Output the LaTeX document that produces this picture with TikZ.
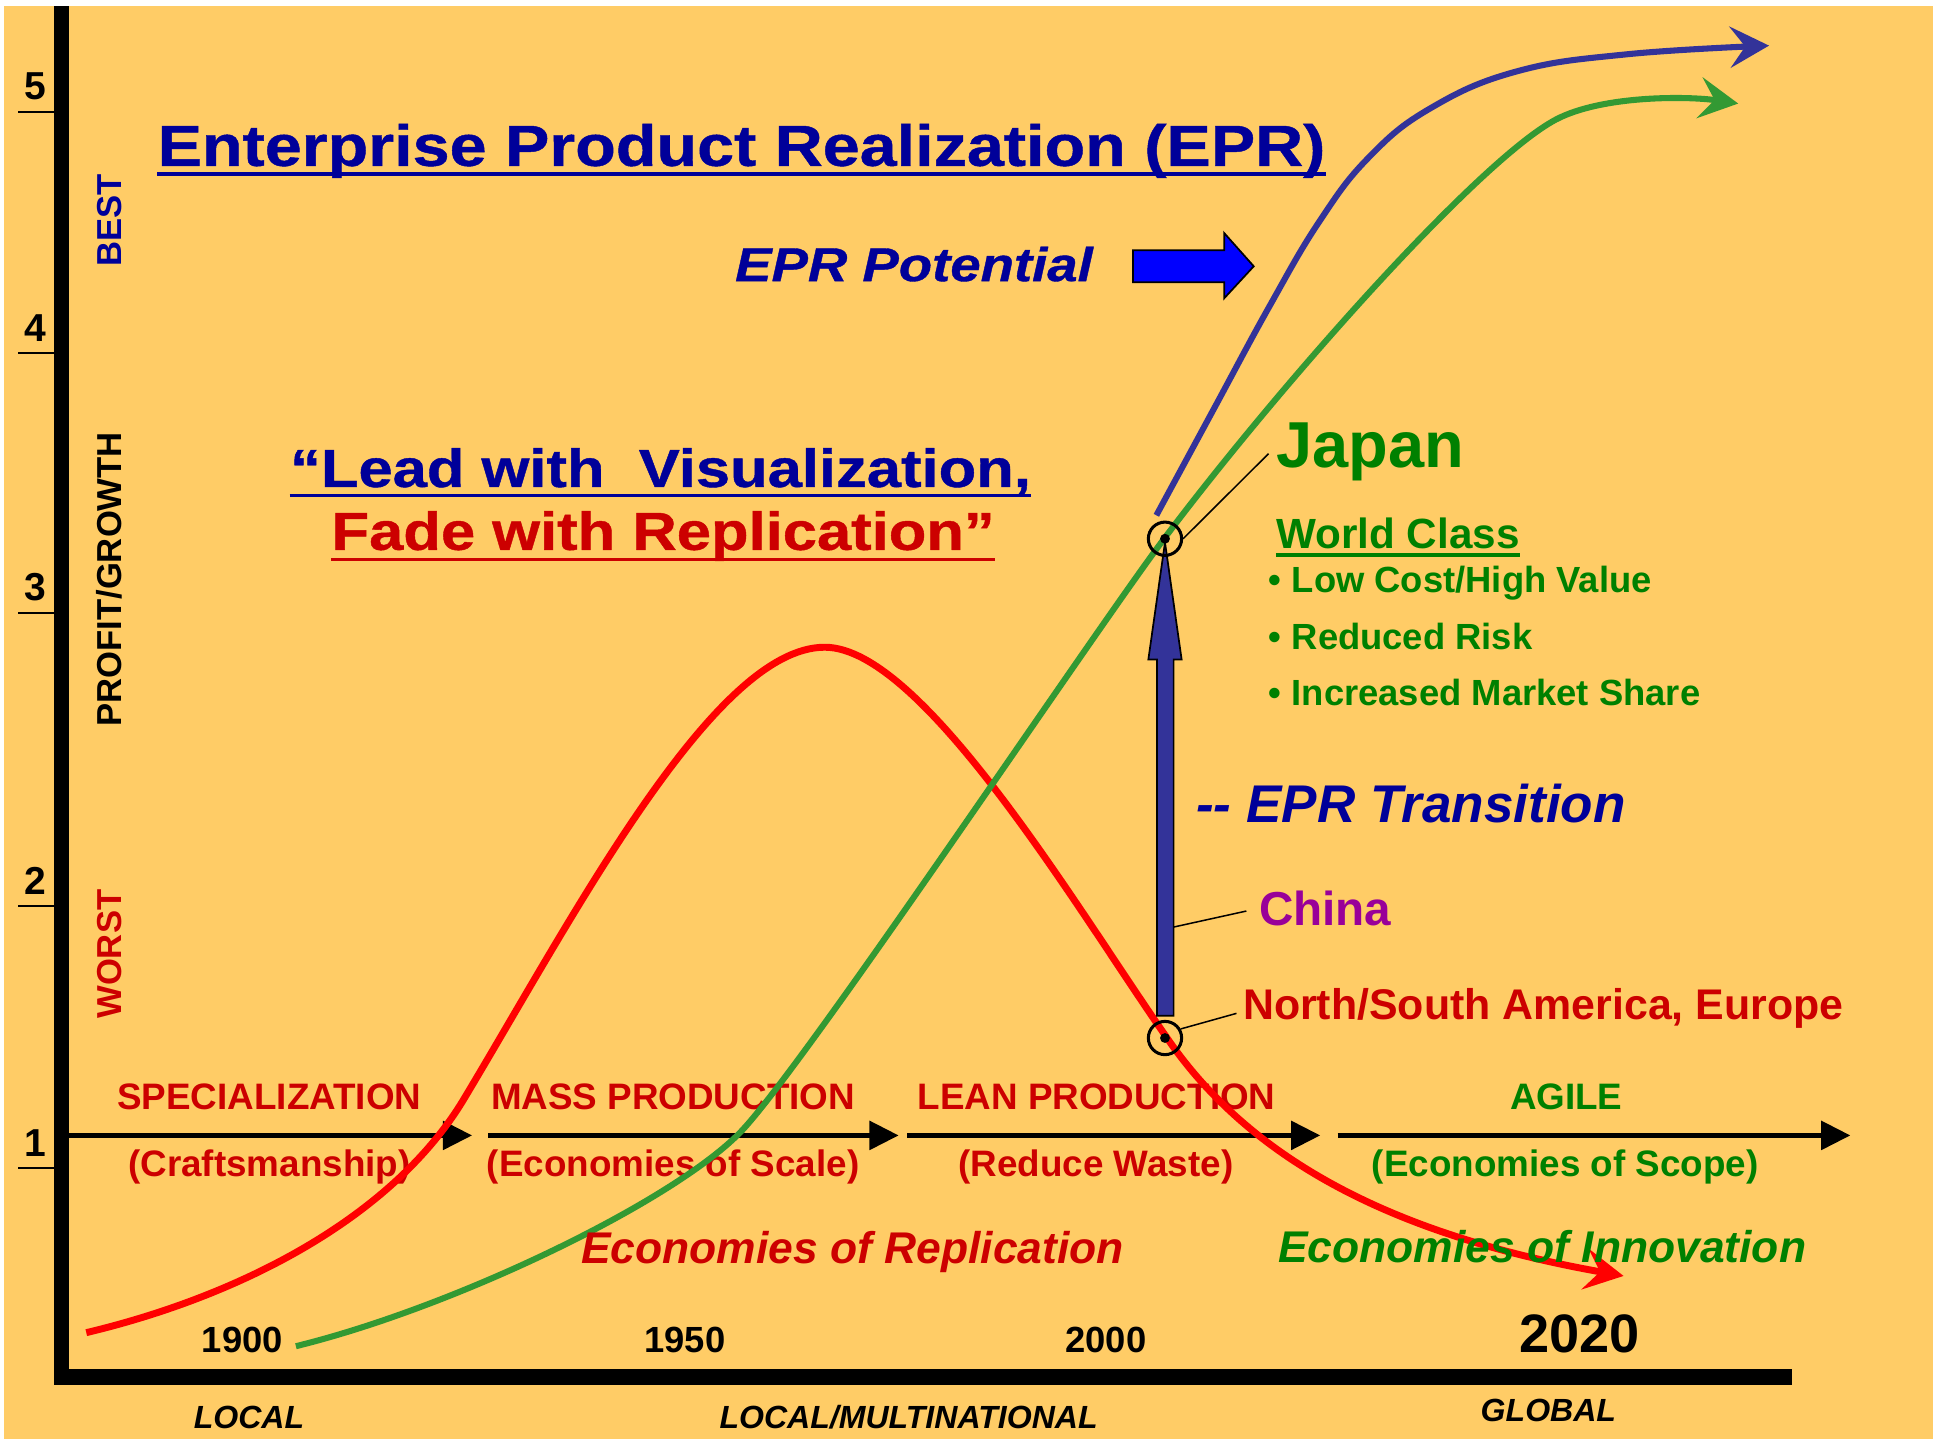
\documentclass[tikz,border=0pt]{standalone}
\usepackage{fontspec}
\setmainfont{Liberation Sans}
\newfontfamily\widefont[FakeStretch=1.15,FakeBold=0.8]{Liberation Sans}
\usepackage{xcolor}
\usepackage{tikz}
\usetikzlibrary{arrows.meta}
\definecolor{bgorange}{HTML}{FFCC66}
\definecolor{navy}{HTML}{000099}
\definecolor{darkred}{HTML}{CC0000}
\definecolor{leafgreen}{HTML}{008000}
\definecolor{plum}{HTML}{990099}
\definecolor{curvered}{HTML}{FF0000}
\definecolor{curvegreen}{HTML}{339933}
\definecolor{curveblue}{HTML}{333399}
\definecolor{potblue}{HTML}{0000FF}
\newcommand{\pts}[1]{\fontsize{#1}{#1}\selectfont}
\tikzstyle{arrow} = [line width=2.4pt, -{Triangle[length=13.5pt,width=13pt]}]
\tikzstyle{curve} = [line width=2.8pt, -{Stealth[length=18pt,width=19pt,inset=7pt]}]
\tikzstyle{leader} = [line width=0.7pt]
\tikzstyle{ring} = [circle, draw, line width=1.4pt, minimum size=0.54cm, inner sep=0pt]
\tikzstyle{uline} = [line width=1.8pt]
\tikzstyle{phase} = [font=\bfseries\pts{17}, text=darkred]
\tikzstyle{era} = [font=\bfseries\itshape\pts{14.8}]
\tikzstyle{year} = [font=\bfseries\pts{16.8}]
\tikzstyle{side} = [font=\bfseries\pts{16}, rotate=90]

\begin{document}
\begin{tikzpicture}[x=0.02cm, y=-0.02cm, every node/.style={inner sep=0pt}]
		\useasboundingbox (0,0) rectangle (1568,1167);
		\fill[bgorange] (3.5,5) rectangle (1568,1167);

		% axes and scale
		\draw[line width=7pt] (50,5) -- (50,1117) -- (1454,1117);
		\foreach \n/\ty in {5/90.6, 4/286.7, 3/497, 2/735, 1/947.5} {
			\node[font=\bfseries\pts{18}, anchor=base] (num\n) at (29,{\ty-9.5}) {\n};
			\draw[line width=0.9pt] (15,\ty) -- (44,\ty);
		}
		\node[side, text=navy] (best) at (89,178.5) {BEST};
		\node[side] (profit) at (89,470) {PROFIT/GROWTH};
		\node[side, text=darkred] (worst) at (89,774) {WORST};

		% headings
		\node (title) [anchor=base, text=navy, font=\widefont\bfseries\pts{26.7}] at (601.5,134.5) {Enterprise Product Realization (EPR)};
		\draw[uline, navy] ([yshift=-0.13cm]title.base west) -- ([yshift=-0.13cm]title.base east);
		\node (quoteA) [anchor=base west, text=navy, font=\widefont\bfseries\pts{24.7}] at (235,395) {“Lead with\ \ Visualization,};
		\draw[uline, navy, line width=1.5pt] ([yshift=-0.14cm]quoteA.base west) -- ([yshift=-0.14cm]quoteA.base east);
		\node (quoteB) [anchor=base west, text=darkred, font=\widefont\bfseries\pts{24.7}] at (268.6,446) {Fade with Replication”};
		\draw[uline, darkred, line width=1.5pt] ([yshift=-0.16cm]quoteB.base west) -- ([yshift=-0.16cm]quoteB.base east);
		\node (potential) [anchor=base west, text=navy, font=\widefont\bfseries\itshape\pts{21.9}] at (596,228) {EPR Potential};
		\fill[potblue, draw=black, line width=0.8pt] (919,203) -- (993,203) -- (993,189) -- (1017,216) -- (993,242) -- (993,229) -- (919,229) -- cycle;

		% phases along the time line
		\foreach \a/\b [count=\i] in {54/383, 396/729, 736/1071, 1085/1501} {
			\coordinate (ph\i s) at (\a,921);
			\coordinate (ph\i e) at (\b,921);
			\draw[arrow] (ph\i s) -- (ph\i e);
		}
		\node (spec) [phase, anchor=base] at (218.5,900) {SPECIALIZATION};
		\node (mass) [phase, anchor=base] at (546,900) {MASS PRODUCTION};
		\node (lean) [phase, anchor=base] at (889.5,900) {LEAN PRODUCTION};
		\node (agile) [phase, anchor=base, text=leafgreen] at (1270.5,900) {AGILE};
		\node (craft) [phase, anchor=base] at (218.6,954.5) {(Craftsmanship)};
		\node (scale) [phase, anchor=base] at (546,954.5) {(Economies of Scale)};
		\node (waste) [phase, anchor=base] at (889,954.5) {(Reduce Waste)};
		\node (scope) [phase, anchor=base, text=leafgreen] at (1269.7,954.5) {(Economies of Scope)};

		\node (y1900) [year, anchor=base] at (196.5,1097) {1900};
		\node (y1950) [year, anchor=base] at (555.6,1097) {1950};
		\node (y2000) [year, anchor=base] at (897,1097) {2000};
		\node (y2020) [year, anchor=base, font=\bfseries\pts{25}] at (1281.5,1097) {2020};
		\node (local) [era, anchor=base] at (202,1159) {LOCAL};
		\node (multi) [era, anchor=base] at (737,1159) {LOCAL/MULTINATIONAL};
		\node (global) [era, anchor=base] at (1256,1153) {GLOBAL};

		% curves
		\draw[curve, curvered, line width=3.2pt] (70,1081) .. controls (200,1050) and (320,985) .. (376,892)
			.. controls (466,742) and (579,525) .. (669,525)
			.. controls (749,525) and (876,741) .. (946,841)
			.. controls (1010,935) and (1120,1000) .. (1317,1035);
		\draw[curve, curvegreen] (240,1092) .. controls (370,1060) and (545,975) .. (600,919)
			.. controls (650,868) and (885,516) .. (945,436)
			.. controls (1040,310) and (1200,130) .. (1262,97)
			.. controls (1300,77) and (1370,78) .. (1410,84);
		\draw[curve, curveblue] plot[smooth, tension=0.7] coordinates {(938,418) (985,331) (1030,248) (1070,180) (1110,128) (1160,88) (1230,58) (1320,44) (1435,37)};

		\node (repl) [anchor=base, text=darkred, font=\bfseries\itshape\pts{20.5}] at (691.5,1025) {Economies of Replication};
		\node (innov) [anchor=base, text=leafgreen, font=\bfseries\itshape\pts{20.5}] at (1251,1024) {Economies of Innovation};

		% transition
		\fill[curveblue, draw=black, line width=0.8pt] (938.5,824) -- (938.5,535) -- (931.5,535) -- (945,440) -- (958.5,535) -- (952,535) -- (952,824) -- cycle;
		\coordinate (chinatap) at (952,752);
		\node[ring] (jpring) at (945,437) {};
		\fill (jpring.center) circle[radius=0.08cm];
		\node[ring] (naring) at (945,842) {};
		\fill (naring.center) circle[radius=0.08cm];

		\node (japan) [anchor=base west, text=leafgreen, font=\bfseries\pts{30}] at (1035,379) {Japan};
		\node (worldclass) [anchor=base west, text=leafgreen, font=\bfseries\pts{19.5}] at (1035,445) {World Class};
		\draw[uline, leafgreen] ([yshift=-0.1cm]worldclass.base west) -- ([yshift=-0.1cm]worldclass.base east);
		\node (lowcost) [anchor=base west, text=leafgreen, font=\bfseries\pts{16.8}] at (1029,481) {• Low Cost/High Value};
		\node (risk) [anchor=base west, text=leafgreen, font=\bfseries\pts{16.8}] at (1029,527) {• Reduced Risk};
		\node (share) [anchor=base west, text=leafgreen, font=\bfseries\pts{16.8}] at (1029,572) {• Increased Market Share};
		\node (transition) [anchor=base west, text=navy, font=\bfseries\itshape\pts{24.5}] at (970,667) {-{}- EPR Transition};
		\node (china) [anchor=base west, text=plum, font=\bfseries\pts{22}] at (1021,751) {China};
		\node (north) [anchor=base west, text=darkred, font=\bfseries\pts{19.8}] at (1008,827) {North/South America, Europe};

		\draw[leader] (jpring.east) -- ([xshift=-0.12cm,yshift=0.22cm]japan.base west);
		\draw[leader] (chinatap) -- ([xshift=-0.2cm,yshift=0.24cm]china.base west);
		\draw[leader] (naring.30) -- ([xshift=-0.1cm,yshift=0.1cm]north.base west);
	\end{tikzpicture}
\end{document}
